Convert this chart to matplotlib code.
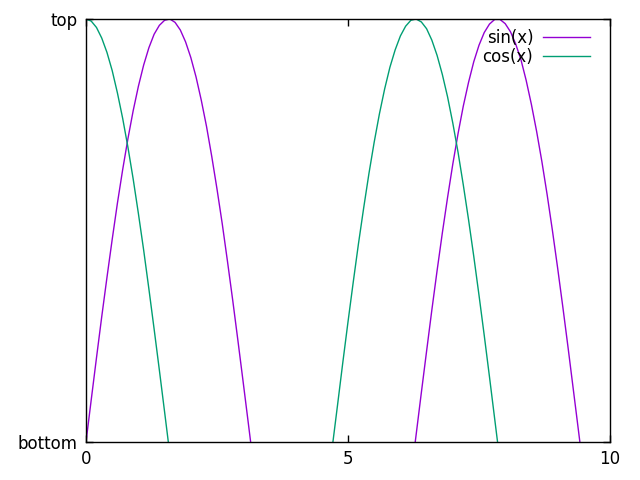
import matplotlib
matplotlib.use("Agg")
import matplotlib.pyplot as plt

# values, x every 0.1 from 0 to 10
x = [0.0, 0.1, 0.2, 0.3, 0.4, 0.5, 0.6, 0.7, 0.8, 0.9,
     1.0, 1.1, 1.2, 1.3, 1.4, 1.5, 1.6, 1.7, 1.8, 1.9,
     2.0, 2.1, 2.2, 2.3, 2.4, 2.5, 2.6, 2.7, 2.8, 2.9,
     3.0, 3.1, 3.2, 3.3, 3.4, 3.5, 3.6, 3.7, 3.8, 3.9,
     4.0, 4.1, 4.2, 4.3, 4.4, 4.5, 4.6, 4.7, 4.8, 4.9,
     5.0, 5.1, 5.2, 5.3, 5.4, 5.5, 5.6, 5.7, 5.8, 5.9,
     6.0, 6.1, 6.2, 6.3, 6.4, 6.5, 6.6, 6.7, 6.8, 6.9,
     7.0, 7.1, 7.2, 7.3, 7.4, 7.5, 7.6, 7.7, 7.8, 7.9,
     8.0, 8.1, 8.2, 8.3, 8.4, 8.5, 8.6, 8.7, 8.8, 8.9,
     9.0, 9.1, 9.2, 9.3, 9.4, 9.5, 9.6, 9.7, 9.8, 9.9, 10.0]
sin_vals = [0.000, 0.100, 0.199, 0.296, 0.389, 0.479, 0.565, 0.644, 0.717, 0.783,
            0.841, 0.891, 0.932, 0.964, 0.985, 0.997, 1.000, 0.992, 0.974, 0.946,
            0.909, 0.863, 0.808, 0.746, 0.675, 0.598, 0.516, 0.427, 0.335, 0.239,
            0.141, 0.042, -0.058, -0.158, -0.256, -0.351, -0.443, -0.530, -0.612, -0.688,
            -0.757, -0.818, -0.872, -0.916, -0.952, -0.978, -0.994, -1.000, -0.996, -0.982,
            -0.959, -0.926, -0.883, -0.832, -0.773, -0.706, -0.631, -0.551, -0.465, -0.374,
            -0.279, -0.182, -0.083, 0.017, 0.117, 0.215, 0.312, 0.405, 0.494, 0.578,
            0.657, 0.729, 0.794, 0.850, 0.899, 0.938, 0.968, 0.988, 0.999, 0.999,
            0.989, 0.970, 0.941, 0.904, 0.855, 0.798, 0.734, 0.663, 0.585, 0.501,
            0.412, 0.319, 0.223, 0.124, 0.025, -0.075, -0.174, -0.272, -0.366, -0.458, -0.544]
cos_vals = [1.000, 0.995, 0.980, 0.955, 0.921, 0.878, 0.825, 0.765, 0.697, 0.622,
            0.540, 0.454, 0.362, 0.267, 0.170, 0.071, -0.029, -0.129, -0.227, -0.323,
            -0.416, -0.505, -0.589, -0.666, -0.737, -0.801, -0.857, -0.904, -0.942, -0.971,
            -0.990, -0.999, -0.998, -0.987, -0.967, -0.936, -0.897, -0.848, -0.791, -0.726,
            -0.654, -0.575, -0.490, -0.401, -0.307, -0.211, -0.112, -0.012, 0.087, 0.187,
            0.284, 0.378, 0.469, 0.554, 0.635, 0.709, 0.776, 0.835, 0.886, 0.927,
            0.960, 0.983, 0.997, 1.000, 0.993, 0.977, 0.950, 0.914, 0.869, 0.816,
            0.754, 0.685, 0.608, 0.526, 0.439, 0.347, 0.252, 0.154, 0.054, -0.046,
            -0.146, -0.244, -0.340, -0.432, -0.519, -0.602, -0.678, -0.748, -0.811, -0.865,
            -0.911, -0.948, -0.975, -0.993, -1.000, -0.997, -0.984, -0.962, -0.930, -0.889, -0.839]
xticks = [0, 5, 10]
yticks = [0, 1]
ytick_labels = ["bottom", "top"]

fig = plt.figure(figsize=(6.4, 4.8), dpi=100)
ax = fig.add_axes([86 / 640, 1 - 442 / 480, (610 - 86) / 640, (442 - 19) / 480])

ax.plot(x, sin_vals, color="#9400d3", lw=1, label="sin(x)")
ax.plot(x, cos_vals, color="#009e73", lw=1, label="cos(x)")

ax.set_xlim(0, 10)
ax.set_ylim(0, 1)
ax.set_xticks(xticks)
ax.set_yticks(yticks)
ax.set_yticklabels(ytick_labels)
ax.tick_params(direction="in", length=5, width=1, top=True, right=True,
               labelsize=12, pad=6)
for s in ax.spines.values():
    s.set_linewidth(1)

# legend: text on the left, line sample on the right, no frame
ax.legend(loc="upper right", bbox_to_anchor=(590 / 640, 1 - 29 / 480),
          bbox_transform=fig.transFigure, borderpad=0, borderaxespad=0,
          frameon=False, markerfirst=False, fontsize=12,
          handlelength=2.8, labelspacing=0.07, handletextpad=0.6)

fig.savefig("out.png", dpi=100)
